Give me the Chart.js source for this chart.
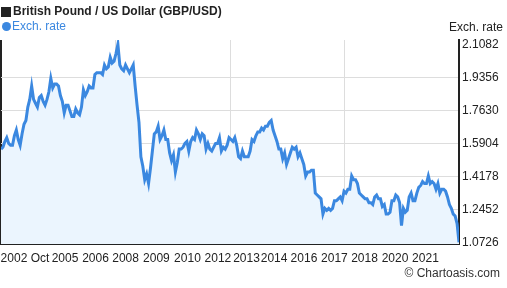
<!DOCTYPE html>
<html>
<head>
<meta charset="utf-8">
<script src="https://cdn.jsdelivr.net/npm/chart.js@4"></script>
<style>
  body { margin: 0; background: #fff; }
  #wrap { position: relative; width: 507px; height: 288px; font-family: 'Liberation Sans', Arial, sans-serif; font-size: 12px; color: #222; }
  #c { position: absolute; left: 0; top: 0; }
  .txt { position: absolute; white-space: nowrap; line-height: 14px; }
  .sq { position: absolute; left: 1px; top: 7px; width: 10px; height: 10px; background: #222; }
  .dot { position: absolute; left: 2px; top: 22px; width: 9px; height: 9px; border-radius: 50%; background: #3b88e0; }
</style>
</head>
<body>
<div id="wrap">
  <canvas id="c" width="507" height="288"></canvas>
  <div class="sq"></div>
  <div class="txt" style="left:13px;top:4px;font-weight:bold;">British Pound / US Dollar (GBP/USD)</div>
  <div class="dot"></div>
  <div class="txt" style="left:12px;top:19px;color:#3b88e0;">Exch. rate</div>
  <div class="txt" style="right:4px;top:20px;">Exch. rate</div>
  <div class="txt" style="right:7px;top:266px;color:#333;">© Chartoasis.com</div>
</div>
<script>
// GBP/USD, monthly, Oct 2002 .. Sep 2022
const rates = [
  1.56, 1.57, 1.60,
  1.62, 1.59, 1.58, 1.58, 1.63, 1.66, 1.61, 1.58, 1.64, 1.69, 1.71, 1.78,
  1.82, 1.89, 1.82, 1.80, 1.78, 1.83, 1.84, 1.81, 1.79, 1.82, 1.86, 1.93,
  1.88, 1.90, 1.90, 1.89, 1.84, 1.81, 1.75, 1.79, 1.79, 1.76, 1.73, 1.73,
  1.77, 1.75, 1.74, 1.78, 1.87, 1.84, 1.86, 1.89, 1.88, 1.88, 1.95, 1.96,
  1.96, 1.96, 1.95, 2.00, 1.98, 1.99, 2.04, 2.01, 2.02, 2.06, 2.1082, 2.00,
  1.98, 1.97, 2.00, 1.98, 1.96, 1.98, 2.00, 1.89, 1.79, 1.70, 1.52, 1.47,
  1.40, 1.43, 1.38, 1.46, 1.55, 1.64, 1.65, 1.68, 1.61, 1.63, 1.66, 1.61,
  1.61, 1.54, 1.50, 1.53, 1.44, 1.49, 1.56, 1.56, 1.57, 1.59, 1.60, 1.55,
  1.60, 1.62, 1.61, 1.66, 1.64, 1.61, 1.64, 1.63, 1.56, 1.59, 1.56, 1.55,
  1.57, 1.59, 1.59, 1.62, 1.55, 1.57, 1.56, 1.58, 1.62, 1.61, 1.60, 1.62,
  1.58, 1.52, 1.51, 1.55, 1.52, 1.52, 1.52, 1.55, 1.61, 1.60, 1.63, 1.65,
  1.65, 1.67, 1.66, 1.68, 1.68, 1.70, 1.71, 1.66, 1.63, 1.60, 1.56, 1.56,
  1.51, 1.54, 1.48, 1.51, 1.54, 1.57, 1.56, 1.57, 1.52, 1.54, 1.51, 1.48,
  1.42, 1.44, 1.44, 1.45, 1.45, 1.33, 1.32, 1.31, 1.30, 1.22, 1.25, 1.24,
  1.25, 1.24, 1.25, 1.29, 1.29, 1.30, 1.31, 1.29, 1.34, 1.33, 1.35, 1.35,
  1.42, 1.40, 1.40, 1.38, 1.33, 1.32, 1.31, 1.30, 1.30, 1.28, 1.28, 1.27,
  1.31, 1.32, 1.30, 1.30, 1.26, 1.27, 1.22, 1.22, 1.23, 1.29, 1.29, 1.32,
  1.31, 1.28, 1.16, 1.25, 1.23, 1.24, 1.31, 1.33, 1.29, 1.29, 1.33, 1.36,
  1.37, 1.39, 1.38, 1.38, 1.42, 1.38, 1.39, 1.38, 1.35, 1.38, 1.33, 1.35,
  1.35, 1.34, 1.31, 1.27, 1.25, 1.22, 1.21, 1.17, 1.0726
];

// x axis labels (months from Oct 2002)
const xTickPos = [12.5, 33.4, 49.3, 65.0, 81.1, 97.3, 113.2, 128.1, 142.5, 158.1, 174.0, 189.7, 205.6, 221.5];
const xTickLabels = ['2002 Oct', '2005', '2006', '2008', '2009', '2010', '2012', '2013', '2014', '2016', '2017', '2018', '2020', '2021'];
const xGridPos = [0, 59.75, 119.5, 179.25];
const yTicks = [1.0726, 1.2452, 1.4178, 1.5904, 1.7630, 1.9356, 2.1082];

const points = rates.map((v, i) => ({ x: i, y: v }));

// keep chart area fixed (no auto padding for overflowing labels)
function noPad(s) {
    s.paddingLeft = 0;
    s.paddingRight = 0;
    s.paddingTop = 0;
    s.paddingBottom = 0;
}

new Chart(document.getElementById('c'), {
    type: 'line',
    data: {
        datasets: [{
            label: 'Exch. rate',
            data: points,
            borderColor: '#3b88e0',
            backgroundColor: '#ebf5fe',
            borderWidth: 3,
            pointRadius: 0,
            tension: 0,
            fill: 'start'
        }]
    },
    options: {
        responsive: false,
        animation: false,
        layout: { padding: { left: 1, top: 40, right: 0, bottom: 0 } },
        plugins: { legend: { display: false }, tooltip: { enabled: false } },
        scales: {
            x: {
                type: 'linear',
                min: 0,
                max: rates.length - 1,
                afterBuildTicks: s => { s.ticks = xTickPos.map(v => ({ value: v })); },
                afterFit: s => { s.height = 44; noPad(s); },
                grid: { display: false, drawTicks: false },
                border: { display: true, color: '#222', width: 2 },
                ticks: {
                    autoSkip: false,
                    maxRotation: 0,
                    padding: 7,
                    color: '#222',
                    font: { family: "'Liberation Sans', Arial, sans-serif", size: 12 },
                    callback: (v, i) => xTickLabels[i]
                }
            },
            x2: {
                type: 'linear',
                position: 'top',
                min: 0,
                max: rates.length - 1,
                afterBuildTicks: s => { s.ticks = xGridPos.map(v => ({ value: v })); },
                afterFit: s => { s.height = 0; noPad(s); },
                grid: {
                    drawTicks: false,
                    color: c => c.index === 0 ? '#222' : '#dddddd',
                    lineWidth: c => c.index === 0 ? 2 : 1
                },
                border: { display: false },
                ticks: { display: false }
            },
            y: {
                position: 'right',
                min: 1.0637,
                max: 2.1307,
                afterBuildTicks: s => { s.ticks = yTicks.map(v => ({ value: v })); },
                afterFit: s => { s.width = 48; noPad(s); },
                grid: {
                    drawTicks: false,
                    color: c => (c.index === 0 || c.index === yTicks.length - 1) ? 'rgba(0,0,0,0)' : '#dddddd'
                },
                border: { display: true, color: '#222', width: 2 },
                ticks: {
                    padding: 3,
                    color: '#222',
                    font: { family: "'Liberation Sans', Arial, sans-serif", size: 12 },
                    callback: v => v.toFixed(4)
                }
            }
        }
    }
});
</script>
</body>
</html>
